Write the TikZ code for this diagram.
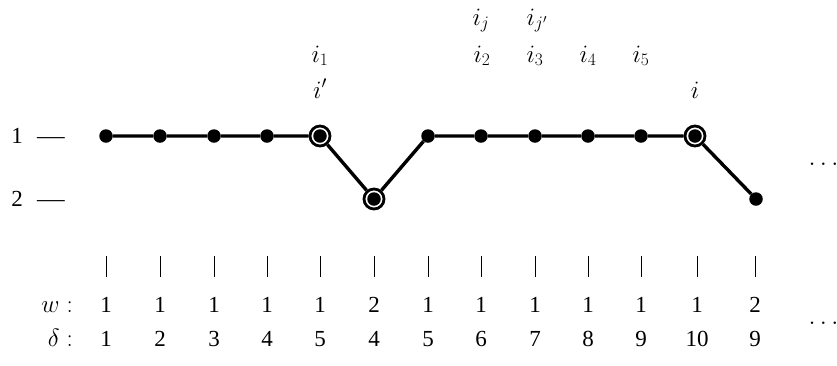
\RequirePackage{fix-cm}
\documentclass[tikz,border=0pt]{standalone}
\usepackage[no-math]{fontspec}
\setmainfont{Liberation Serif}
\begin{document}
\begin{tikzpicture}[x=1pt,y=-1pt,
  dot/.style={circle,fill,inner sep=0pt,minimum size=13.5pt},
  ring/.style={circle,draw,line width=2.8pt,fill=white,inner sep=0pt,minimum size=20pt},
  link/.style={line width=3.4pt},
  lab/.style={inner sep=0pt,anchor=base,font=\fontsize{25}{30}\selectfont},
  num/.style={inner sep=0pt,anchor=base,font=\fontsize{23}{27}\selectfont},
  tickmark/.style={line width=0.8pt},
  ell/.style={inner sep=0pt,anchor=base west,font=\fontsize{26}{30}\selectfont},
]
\useasboundingbox (0,0) rectangle (837,365);
% rings
\node[ring] (r5) at (320,136) {};
\node[ring] (r6) at (374,199) {};
\node[ring] (r12) at (695,136) {};
% dots
\foreach \n/\x/\y in {1/106/136,2/160/136,3/214/136,4/267/136,5/320/136,6/374/199,7/428/136,8/481/136,9/535/136,10/588/136,11/641/136,12/695/136,13/756/199}
  \node[dot] (v\n) at (\x,\y) {};
% path
\draw[link] (v1)--(v2)--(v3)--(v4)--(r5)--(r6)--(v7)--(v8)--(v9)--(v10)--(v11)--(r12)--(v13);
% top labels
\node[lab] (li1) at (320,62) {$i_1$};
\node[lab] (lip) at (320,98) {$i'$};
\node[lab] (lij) at (481,25) {$i_j$};
\node[lab] (lijp) at (537,25) {$i_{j'}$};
\node[lab] (li2) at (482,62) {$i_2$};
\node[lab] (li3) at (535,62) {$i_3$};
\node[lab] (li4) at (588,62) {$i_4$};
\node[lab] (li5) at (641,62) {$i_5$};
\node[lab] (li) at (695,98) {$i$};
% left level labels
\node[num] (one) at (17,143) {1};
\node[num] (onedash) at (51,143) {\scalebox{1.2}[1]{—}};
\node[num] (two) at (17,206) {2};
\node[num] (twodash) at (51,206) {\scalebox{1.2}[1]{—}};
% ticks and rows
\node[lab,anchor=base east] (wl) at (73,312) {$w:$};
\node[lab,anchor=base east] (dl) at (73,346) {$\delta:$};
\foreach \n/\x/\w/\d in {1/106/1/1,2/160/1/2,3/214/1/3,4/267/1/4,5/320/1/5,6/374/2/4,7/428/1/5,8/481/1/6,9/535/1/7,10/588/1/8,11/641/1/9,12/697/1/10,13/755/2/9}{
  \draw[tickmark] (\x,256) -- (\x,277);
  \node[num] (w\n) at (\x,312) {\w};
  \node[num] (d\n) at (\x,346) {\d};
}
% ellipses
\node[ell] (e1) at (808.4,165) {$\ldots$};
\node[ell] (e2) at (808.4,324) {$\ldots$};
\end{tikzpicture}
\end{document}
